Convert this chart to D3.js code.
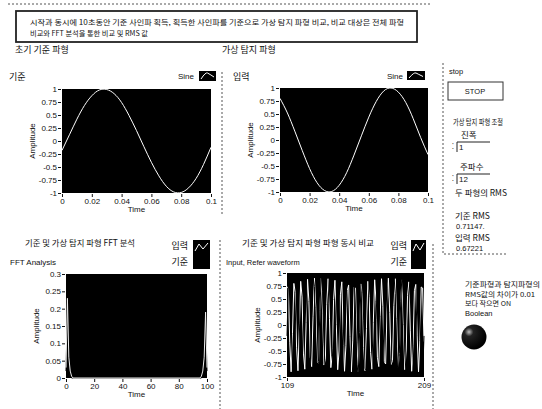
<!DOCTYPE html>
<html>
<head>
<meta charset="utf-8">
<style type="text/css">
body { margin: 0; background: #fff; }
text { font-family: "Liberation Sans", "Noto Sans CJK KR", sans-serif; fill: #111; }
.kr { font-family: "Noto Sans CJK KR", sans-serif; }
.tick text { font-size: 8px; font-family: "Liberation Sans", sans-serif; }
.tick line { stroke: #111; }
.domain { stroke: none; }
.wave { fill: none; stroke-width: 1; }
.sep { stroke: #555; stroke-width: 1; stroke-dasharray: 2,2; fill: none; }
</style>
<script src="https://d3js.org/d3.v7.min.js"></script>
</head>
<body>
<script type="text/javascript">
// initial reference sine, 0 ~ 0.1 s (read every 0.005 s)
var refTime = [0, 0.005, 0.01, 0.015, 0.02, 0.025, 0.03, 0.035, 0.04, 0.045, 0.05,
  0.055, 0.06, 0.065, 0.07, 0.075, 0.08, 0.085, 0.09, 0.095, 0.1];
var refSine = [-0.18, 0.12, 0.42, 0.68, 0.87, 0.98, 0.99, 0.91, 0.74, 0.49, 0.2,
  -0.11, -0.41, -0.67, -0.87, -0.98, -0.99, -0.9, -0.72, -0.45, -0.12];
// virtual detected sine (amp 1, freq 12)
var inSine = [0.8, 0.52, 0.17, -0.2, -0.55, -0.82, -0.97, -0.99, -0.87, -0.63, -0.29,
  0.08, 0.44, 0.74, 0.94, 1.0, 0.92, 0.72, 0.41, 0.05, -0.28];

// FFT analysis (index 0 ~ 100)
var fftX = [0, 1, 2, 3, 4, 5, 95, 96, 97, 98, 99, 100];
var fftIn = [0.03, 0.23, 0.06, 0.02, 0.005, 0, 0, 0.005, 0.02, 0.06, 0.19, 0.03];
var fftRef = [0.02, 0.2, 0.04, 0.01, 0, 0, 0, 0, 0.01, 0.04, 0.17, 0.02];

// both waveforms, samples 109 ~ 209
var cmpStart = 109;
var cmpIn = [0.74, 0.7, -0.33, -0.9, -0.17, 0.8, 0.63, -0.44, -0.88, -0.06,
  0.84, 0.54, -0.54, -0.85, 0.05, 0.88, 0.45, -0.62, -0.8, 0.17,
  0.9, 0.34, -0.7, -0.74, 0.28, 0.9, 0.23, -0.77, -0.67, 0.39,
  0.89, 0.12, -0.82, -0.59, 0.49, 0.86, 0.01, -0.86, -0.5, 0.58,
  0.83, -0.11, -0.89, -0.4, 0.66, 0.77, -0.22, -0.9, -0.29, 0.73,
  0.71, -0.33, -0.9, -0.18, 0.79, 0.63, -0.43, -0.88, -0.07, 0.84,
  0.55, -0.53, -0.85, 0.05, 0.87, 0.45, -0.62, -0.8, 0.16, 0.89,
  0.35, -0.7, -0.75, 0.27, 0.9, 0.24, -0.76, -0.68, 0.38, 0.89,
  0.13, -0.82, -0.59, 0.48, 0.87, 0.01, -0.86, -0.5, 0.57, 0.83,
  -0.1, -0.89, -0.4, 0.66, 0.78, -0.21, -0.9, -0.3, 0.73, 0.71, -0.32];
var cmpRef = [-0.21, 0.76, 0.94, 0.15, -0.8, -0.91, -0.08, 0.83, 0.89, 0.02,
  -0.87, -0.86, 0.04, 0.9, 0.82, -0.1, -0.92, -0.78, 0.17, 0.94,
  0.74, -0.23, -0.96, -0.7, 0.29, 0.98, 0.65, -0.35, -0.99, -0.6,
  0.41, 1.0, 0.55, -0.46, -1.0, -0.5, 0.52, 1.0, 0.44, -0.57,
  -0.99, -0.39, 0.62, 0.99, 0.33, -0.67, -0.97, -0.27, 0.71, 0.96,
  0.21, -0.76, -0.94, -0.15, 0.8, 0.91, 0.08, -0.83, -0.89, -0.02,
  0.87, 0.86, -0.04, -0.9, -0.82, 0.1, 0.92, 0.78, -0.17, -0.94,
  -0.74, 0.23, 0.96, 0.7, -0.29, -0.98, -0.65, 0.35, 0.99, 0.6,
  -0.41, -1.0, -0.55, 0.46, 1.0, 0.5, -0.52, -1.0, -0.44, 0.57,
  0.99, 0.39, -0.62, -0.99, -0.33, 0.67, 0.97, 0.27, -0.71, -0.96, -0.21];

var ampTicks = [1, 0.75, 0.5, 0.25, 0, -0.25, -0.5, -0.75, -1];
var timeTicks = [0, 0.02, 0.04, 0.06, 0.08, 0.1];
var fftYTicks = [0.3, 0.25, 0.2, 0.15, 0.1, 0.05, 0];
var fftXTicks = [0, 20, 40, 60, 80, 100];

var width = 542, height = 409;
var svg = d3.select("body").append("svg").attr("width", width).attr("height", height);
var fmt = function(d) { return d === 0 ? "0" : String(+d.toFixed(2)); };

function txt(x, y, s, size, cls, anchor, len) {
	var t = svg.append("text").attr("x", x).attr("y", y).attr("class", cls || "kr")
		.attr("font-size", size || 9).attr("text-anchor", anchor || "start").text(s);
	if (len) t.attr("textLength", len).attr("lengthAdjust", "spacingAndGlyphs");
	return t;
}

function graph(box, xd, yd, xt, yt, series) {
	var x = d3.scaleLinear().domain(xd).range([box.l, box.r]);
	var y = d3.scaleLinear().domain(yd).range([box.b, box.t]);
	svg.append("rect").attr("x", box.l).attr("y", box.t)
		.attr("width", box.r - box.l).attr("height", box.b - box.t).attr("fill", "#000");
	svg.append("g").attr("transform", "translate(" + (box.l - 1) + ",0)")
		.call(d3.axisLeft(y).tickValues(yt).tickFormat(fmt).tickSize(3).tickPadding(1));
	svg.append("g").attr("transform", "translate(0," + (box.b + 1) + ")")
		.call(d3.axisBottom(x).tickValues(xt).tickFormat(fmt).tickSize(3).tickPadding(1));
	series.forEach(function(s) {
		var line = d3.line().x(function(d, i) { return x(s.x(d, i)); })
			.y(function(d) { return y(d); }).curve(s.curve || d3.curveLinear);
		svg.append("path").datum(s.v).attr("class", "wave")
			.attr("stroke", s.color).attr("d", line);
	});
	txt((box.l + box.r) / 2, box.b + 19, "Time", 8, "en", "middle");
	svg.append("text").attr("class", "en").attr("font-size", 8).attr("text-anchor", "middle")
		.attr("transform", "translate(" + (box.l - 27) + "," + ((box.t + box.b) / 2) + ") rotate(-90)")
		.text("Amplitude");
	return { x: x, y: y };
}

function sineIcon(x0, y0, w, h) {
	svg.append("rect").attr("x", x0).attr("y", y0).attr("width", w).attr("height", h).attr("fill", "#000");
	svg.append("path").attr("fill", "none").attr("stroke", "#fff").attr("stroke-width", 1)
		.attr("d", "M" + (x0 + 2) + "," + (y0 + h - 2) + " Q" + (x0 + w / 2 - 2) + "," + (y0 + 1) +
			" " + (x0 + w / 2) + "," + (y0 + 2) + " T" + (x0 + w - 2) + "," + (y0 + h / 2 + 1));
}

// scan line on top
svg.append("line").attr("class", "sep").attr("x1", 8).attr("x2", 430).attr("y1", 4).attr("y2", 4).attr("stroke", "#999");

// description box
svg.append("rect").attr("x", 16).attr("y", 11).attr("width", 401).attr("height", 31)
	.attr("fill", "none").attr("stroke", "#222").attr("stroke-width", 1.8);
txt(30, 25, "시작과 동시에 10초동안 기준 사인파 획득,  획득한 사인파를 기준으로 가상 탐지 파형 비교, 비교 대상은 전체 파형", 7, "kr", "start", 374);
txt(30, 35.5, "비교와 FFT 분석을 통한 비교 및 RMS 값", 7, "kr", "start", 118);

txt(15, 53, "초기 기준 파형", 9);
txt(222, 53, "가상 탐지 파형", 9);

// top-left graph
txt(9, 80, "기준", 9);
txt(194, 79, "Sine", 8, "en", "end");
sineIcon(199, 71, 17, 10);
graph({ l: 62, r: 211, t: 89, b: 193 }, [0, 0.1], [-1, 1], timeTicks, ampTicks,
	[{ v: refSine, x: function(d, i) { return refTime[i]; }, color: "#fff", curve: d3.curveNatural }]);

// top-right graph
txt(233, 80, "입력", 9);
txt(403, 79, "Sine", 8, "en", "end");
sineIcon(407, 71, 18, 9);
graph({ l: 280, r: 428, t: 88, b: 192 }, [0, 0.1], [-1, 1], timeTicks, ampTicks,
	[{ v: inSine, x: function(d, i) { return refTime[i]; }, color: "#fff", curve: d3.curveNatural }]);

// bottom-left FFT graph
txt(25, 246, "기준 및 가상 탐지 파형 FFT 분석", 8.5, "kr", "start", 110);
txt(10, 265, "FFT Analysis", 8, "en");
txt(188, 249, "입력", 9, "kr", "end");
txt(188, 265, "기준", 9, "kr", "end");
svg.append("rect").attr("x", 193).attr("y", 240).attr("width", 17).attr("height", 29).attr("fill", "#000");
svg.append("path").attr("fill", "none").attr("stroke", "#fff").attr("d", "M195,251 L199,244 L203,249 L208,243");
graph({ l: 66, r: 207, t: 274, b: 378 }, [0, 100], [0, 0.3], fftXTicks, fftYTicks,
	[{ v: fftRef, x: function(d, i) { return fftX[i]; }, color: "#000" },
	 { v: fftIn, x: function(d, i) { return fftX[i]; }, color: "#eee" }]);

// bottom-right comparison graph
txt(242, 246, "기준 및 가상 탐지 파형 파형 동시 비교", 8.5, "kr", "start", 132);
txt(226, 265, "Input, Refer waveform", 7.5, "en");
txt(407, 249, "입력", 9, "kr", "end");
txt(407, 265, "기준", 9, "kr", "end");
svg.append("rect").attr("x", 411).attr("y", 240).attr("width", 15).attr("height", 29).attr("fill", "#000");
svg.append("path").attr("fill", "none").attr("stroke", "#fff").attr("d", "M413,251 L416,244 L420,250 L424,243");
graph({ l: 287, r: 424, t: 273, b: 377 }, [cmpStart, cmpStart + 100], [-1, 1], [cmpStart, cmpStart + 100], ampTicks,
	[{ v: cmpIn, x: function(d, i) { return cmpStart + i; }, color: "#fff" },
	 { v: cmpRef, x: function(d, i) { return cmpStart + i; }, color: "#000" }]);

// separators
svg.append("line").attr("class", "sep").attr("x1", 222).attr("x2", 222).attr("y1", 72).attr("y2", 216);
svg.append("line").attr("class", "sep").attr("x1", 220).attr("x2", 220).attr("y1", 240).attr("y2", 409);
svg.append("line").attr("class", "sep").attr("x1", 433).attr("x2", 433).attr("y1", 244).attr("y2", 409);
svg.append("path").attr("class", "sep").attr("d", "M443,63 L443,254 L506,254");

// right control panel
txt(449, 74, "stop", 7.5, "en");
svg.append("rect").attr("x", 448).attr("y", 82).attr("width", 55).attr("height", 18)
	.attr("fill", "#fff").attr("stroke", "#333");
txt(475, 94, "STOP", 7.5, "en", "middle");
txt(453, 125, "가상 탐지 파형 조절", 8.5, "kr", "start", 50);
txt(461, 138, "진폭", 8.5);
svg.append("path").attr("fill", "none").attr("stroke", "#222").attr("d", "M457,152 L457,142 L490,142");
txt(452, 149, "⁚", 8, "en");
txt(459, 150, "1", 8, "en");
txt(460, 170, "주파수", 8.5);
svg.append("path").attr("fill", "none").attr("stroke", "#222").attr("d", "M457,184 L457,174 L490,174");
txt(452, 181, "⁚", 8, "en");
txt(459, 182, "12", 8, "en");
txt(455, 196, "두 파형의 RMS", 8.5, "kr", "start", 52);
txt(455, 219, "기준 RMS", 8.5);
txt(456, 229, "0.71147.", 7.5, "en");
txt(455, 241, "입력 RMS", 8.5);
txt(456, 251, "0.67221", 7.5, "en");

txt(465, 287, "기준파형과 탐지파형의", 6.5, "kr", "start", 75);
txt(465, 296.5, "RMS값의 차이가 0.01", 6.5, "kr", "start", 70);
txt(465, 306, "보다 작으면 ON", 6.5, "kr", "start", 46);
txt(465, 315.5, "Boolean", 7.5, "en");
var grad = svg.append("defs").append("radialGradient").attr("id", "led")
	.attr("cx", "30%").attr("cy", "30%").attr("r", "70%");
grad.append("stop").attr("offset", "0%").attr("stop-color", "#bbb");
grad.append("stop").attr("offset", "25%").attr("stop-color", "#222");
grad.append("stop").attr("offset", "100%").attr("stop-color", "#000");
svg.append("circle").attr("cx", 474).attr("cy", 337).attr("r", 12.5).attr("fill", "url(#led)");
</script>
</body>
</html>
